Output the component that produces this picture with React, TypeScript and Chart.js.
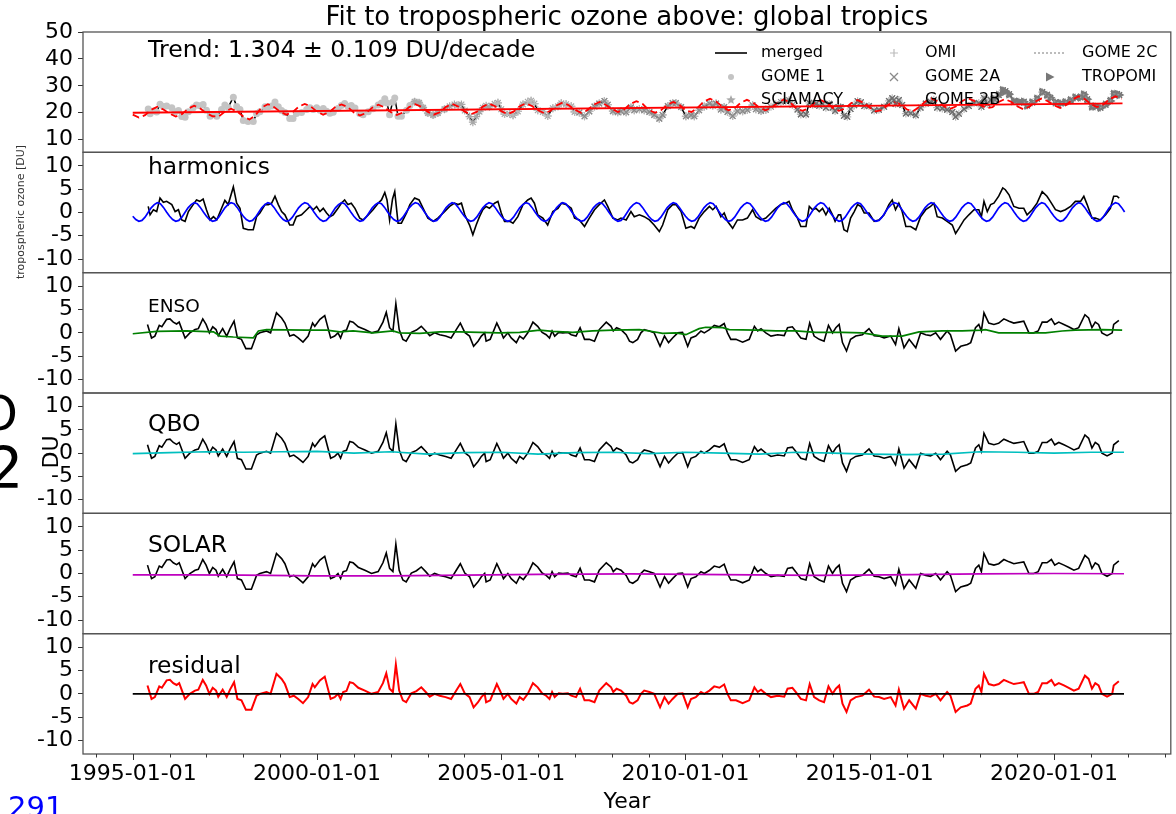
import React, { useEffect, useRef } from 'react';
import { Chart, registerables } from 'chart.js';

Chart.register(...registerables);

const FONT = '"DejaVu Sans", "Liberation Sans", sans-serif';

// ---------- axis / text data ----------
const xMin = 1993.65;
const xMax = 2023.17;
const xTickYears = [1995, 2000, 2005, 2010, 2015, 2020];
const xTickLabels = ['1995-01-01', '2000-01-01', '2005-01-01', '2010-01-01', '2015-01-01', '2020-01-01'];
const xMinorYears = [1994, 1995, 1996, 1997, 1998, 1999, 2000, 2001, 2002, 2003, 2004, 2005, 2006, 2007, 2008, 2009, 2010, 2011, 2012, 2013, 2014, 2015, 2016, 2017, 2018, 2019, 2020, 2021, 2022, 2023];
const topTicks = [10, 20, 30, 40, 50];
const panelTicks = [-10, -5, 0, 5, 10];
const panelLabels = ['harmonics', 'ENSO', 'QBO', 'SOLAR', 'residual'];
const titleText = 'Fit to tropospheric ozone above: global tropics';
const trendText = 'Trend: 1.304 \u00b1 0.109 DU/decade';

// instruments (legend order, column-major)
const instrumentNames = ['GOME 1', 'SCIAMACY', 'OMI', 'GOME 2A', 'GOME 2B', 'TROPOMI'];
const instrumentStart = [1995.4, 2002.6, 2004.8, 2007.1, 2013.0, 2018.3];
const instrumentEnd = [2003.5, 2012.3, 2021.8, 2021.8, 2021.8, 2021.8];
const gome2cStart = 2019.1;
const gome2cEnd = 2021.8;

// ---------- series ----------
const trendLine: [number, number][] = [[1995.0, 20.0], [2021.86, 23.5]];

// merged tropospheric ozone column (DU), top panel
const topMerged: [number, number][] = [
  [1995.42,21.4],[1995.47,19.6],[1995.56,20.7],[1995.65,20.3],[1995.74,23.2],[1995.83,22.3],[1995.92,22.5],[1996.06,21.9],[1996.15,20.4],[1996.24,20.8],[1996.33,18.6],[1996.42,18.3],[1996.51,20.4],[1996.64,21.9],[1996.73,22.9],[1996.82,22.6],[1996.91,23.1],[1997.00,20.9],[1997.10,18.7],[1997.19,19.4],[1997.28,18.7],[1997.41,21.2],[1997.50,22.9],[1997.59,22.0],[1997.73,25.8],[1997.82,22.3],[1997.91,21.2],[1998.00,17.1],[1998.13,16.8],[1998.27,16.8],[1998.36,19.6],[1998.45,20.4],[1998.59,22.2],[1998.68,22.2],[1998.77,22.5],[1998.86,24.0],[1998.95,22.2],[1999.04,20.8],[1999.13,20.1],[1999.26,17.9],[1999.35,17.9],[1999.44,19.7],[1999.58,20.1],[1999.72,21.2],[1999.81,21.9],[1999.90,21.2],[1999.99,21.9],
  [2000.08,20.9],[2000.17,21.6],[2000.26,20.6],[2000.35,19.8],[2000.44,20.2],[2000.57,21.6],[2000.66,22.7],[2000.75,23.4],[2000.84,22.4],[2000.93,22.7],[2001.03,21.8],[2001.16,19.7],[2001.25,19.3],[2001.39,20.4],[2001.52,21.5],[2001.66,22.9],[2001.75,23.6],[2001.84,25.2],[2001.90,23.6],[2001.97,19.3],[2002.05,23.9],[2002.11,25.5],[2002.20,18.7],[2002.29,18.7],[2002.43,20.9],[2002.52,22.7],[2002.65,24.1],[2002.77,23.7],[2002.88,21.9],[2003.01,19.9],[2003.15,19.2],[2003.28,19.9],[2003.46,21.3],[2003.60,22.4],[2003.73,23.1],[2003.83,22.8],[2003.92,23.1],[2004.01,20.8],[2004.14,18.6],[2004.23,16.5],[2004.32,18.6],[2004.41,20.4],[2004.50,21.9],[2004.59,22.6],[2004.68,22.2],[2004.82,23.3],[2004.91,23.7],
  [2005.00,21.3],[2005.09,19.5],[2005.23,19.5],[2005.32,19.1],[2005.45,20.5],[2005.59,23.1],[2005.72,24.1],[2005.81,24.5],[2005.90,23.4],[2005.99,20.9],[2006.13,20.3],[2006.26,18.8],[2006.40,21.7],[2006.54,22.4],[2006.63,23.5],[2006.76,23.2],[2006.90,22.4],[2006.99,20.3],[2007.12,20.1],[2007.26,18.7],[2007.39,20.5],[2007.53,22.3],[2007.66,23.4],[2007.80,24.4],[2007.89,23.0],[2008.03,20.6],[2008.16,20.2],[2008.25,20.6],[2008.39,20.2],[2008.52,22.0],[2008.61,20.9],[2008.75,21.3],[2008.88,20.9],[2009.02,20.3],[2009.15,19.2],[2009.29,17.8],[2009.38,19.2],[2009.52,22.5],[2009.65,23.6],[2009.74,23.6],[2009.88,22.1],
  [2010.01,18.7],[2010.15,19.1],[2010.24,18.7],[2010.37,20.9],[2010.51,22.3],[2010.65,23.4],[2010.74,22.7],[2010.83,23.4],[2010.96,21.2],[2011.05,22.1],[2011.14,20.3],[2011.28,18.8],[2011.41,20.6],[2011.55,20.6],[2011.68,21.0],[2011.82,22.8],[2011.91,21.3],[2012.05,20.7],[2012.18,21.1],[2012.32,22.2],[2012.45,23.2],[2012.59,24.0],[2012.72,24.3],[2012.81,24.7],[2012.90,22.9],[2013.04,21.2],[2013.13,19.4],[2013.27,19.4],[2013.36,23.7],[2013.45,23.0],[2013.54,23.3],[2013.63,22.6],[2013.72,23.3],[2013.81,21.9],[2013.90,23.3],[2013.99,21.9],[2014.06,20.7],[2014.15,22.1],[2014.21,22.1],[2014.30,18.9],[2014.39,18.5],[2014.48,21.4],[2014.58,22.8],[2014.67,24.3],[2014.76,23.9],[2014.85,22.5],[2014.98,22.5],
  [2015.12,20.8],[2015.25,21.1],[2015.39,22.2],[2015.52,24.4],[2015.61,25.4],[2015.70,23.3],[2015.79,24.7],[2015.88,22.9],[2015.98,19.7],[2016.11,19.8],[2016.25,19.1],[2016.38,21.9],[2016.52,23.4],[2016.65,24.1],[2016.74,24.8],[2016.83,21.9],[2016.97,21.6],[2017.10,21.1],[2017.24,20.3],[2017.33,18.5],[2017.42,19.6],[2017.56,21.4],[2017.69,22.5],[2017.83,23.6],[2017.96,23.6],[2018.03,22.2],[2018.10,25.5],[2018.19,23.3],[2018.28,24.8],[2018.37,25.1],[2018.50,26.6],[2018.61,28.4],[2018.68,28.0],[2018.78,26.9],[2018.91,24.4],[2019.05,24.1],[2019.18,24.1],[2019.27,22.7],[2019.41,23.8],[2019.54,25.2],[2019.68,27.7],[2019.81,26.7],[2019.90,25.6],
  [2020.04,23.9],[2020.18,23.5],[2020.31,23.9],[2020.45,24.6],[2020.58,25.7],[2020.72,25.7],[2020.81,26.8],[2020.90,25.0],[2021.03,22.3],[2021.12,22.3],[2021.26,21.9],[2021.40,23.0],[2021.53,24.4],[2021.62,27.0],[2021.71,27.0],[2021.77,26.6],
];

// full model fit (dashed red), every two months from 1995-01
const fitDashed = [
  19.3, 18.2, 19.1, 21.1, 22.2, 21.2,
  19.7, 18.6, 19.5, 21.5, 22.6, 21.6,
  19.8, 18.7, 18.6, 20.4, 21.5, 20.5,
  18.6, 17.5, 19.1, 22.0, 23.2, 22.1,
  20.4, 19.3, 20.2, 22.2, 23.3, 22.3,
  20.4, 19.3, 20.2, 22.2, 23.1, 22.1,
  20.1, 19.0, 19.9, 21.9, 23.0, 22.0,
  20.3, 19.2, 20.1, 22.1, 23.2, 22.2,
  20.4, 19.3, 20.2, 22.2, 23.3, 22.3,
  20.5, 19.4, 20.3, 22.3, 23.4, 22.4,
  20.6, 19.5, 20.4, 22.4, 23.5, 22.5,
  20.9, 19.8, 20.7, 22.7, 23.8, 22.8,
  21.1, 20.0, 20.9, 22.9, 24.0, 23.0,
  21.4, 20.3, 21.2, 23.2, 24.3, 23.3,
  21.1, 20.0, 20.9, 22.9, 24.0, 23.0,
  20.9, 20.3, 21.9, 24.2, 25.2, 24.2,
  22.2, 20.9, 21.7, 23.7, 24.8, 23.8,
  22.0, 20.9, 21.8, 23.8, 24.9, 23.9,
  21.8, 20.7, 21.6, 23.6, 24.7, 23.7,
  21.8, 20.7, 21.6, 23.6, 24.7, 23.7,
  21.9, 20.5, 21.0, 23.0, 24.1, 23.1,
  21.3, 20.5, 22.0, 24.1, 25.3, 24.3,
  22.5, 21.4, 22.3, 24.3, 25.4, 24.4,
  22.9, 21.7, 22.1, 24.0, 25.1, 24.1,
  22.4, 21.3, 22.2, 24.2, 25.3, 24.3,
  22.8, 21.8, 22.9, 24.9, 26.1, 25.1,
  23.2, 22.1, 23.0, 25.0, 26.1, 25.1,
];

// harmonic (seasonal) fit, monthly from 1995-01 (blue)
const harmonicsFit = [
  -0.8,-1.5,-1.9,-1.7,-1.0,0.0,1.0,1.7,2.1,1.9,1.1,0.1,
  -0.8,-1.5,-1.9,-1.7,-1.0,0.0,1.0,1.7,2.1,1.9,1.1,0.1,
  -0.8,-1.5,-1.9,-1.7,-1.0,0.0,1.0,1.7,2.1,1.9,1.1,0.1,
  -0.8,-1.5,-1.9,-1.7,-1.0,0.0,1.0,1.7,2.1,1.9,1.1,0.1,
  -0.8,-1.5,-1.9,-1.7,-1.0,0.0,1.0,1.7,2.1,1.9,1.1,0.1,
  -0.8,-1.5,-1.9,-1.7,-1.0,0.0,1.0,1.7,2.1,1.9,1.1,0.1,
  -0.8,-1.5,-1.9,-1.7,-1.0,0.0,1.0,1.7,2.1,1.9,1.1,0.1,
  -0.8,-1.5,-1.9,-1.7,-1.0,0.0,1.0,1.7,2.1,1.9,1.1,0.1,
  -0.8,-1.5,-1.9,-1.7,-1.0,0.0,1.0,1.7,2.1,1.9,1.1,0.1,
  -0.8,-1.5,-1.9,-1.7,-1.0,0.0,1.0,1.7,2.1,1.9,1.1,0.1,
  -0.8,-1.5,-1.9,-1.7,-1.0,0.0,1.0,1.7,2.1,1.9,1.1,0.1,
  -0.8,-1.5,-1.9,-1.7,-1.0,0.0,1.0,1.7,2.1,1.9,1.1,0.1,
  -0.8,-1.5,-1.9,-1.7,-1.0,0.0,1.0,1.7,2.1,1.9,1.1,0.1,
  -0.8,-1.5,-1.9,-1.7,-1.0,0.0,1.0,1.7,2.1,1.9,1.1,0.1,
  -0.8,-1.5,-1.9,-1.7,-1.0,0.0,1.0,1.7,2.1,1.9,1.1,0.1,
  -0.8,-1.5,-1.9,-1.7,-1.0,0.0,1.0,1.7,2.1,1.9,1.1,0.1,
  -0.8,-1.5,-1.9,-1.7,-1.0,0.0,1.0,1.7,2.1,1.9,1.1,0.1,
  -0.8,-1.5,-1.9,-1.7,-1.0,0.0,1.0,1.7,2.1,1.9,1.1,0.1,
  -0.8,-1.5,-1.9,-1.7,-1.0,0.0,1.0,1.7,2.1,1.9,1.1,0.1,
  -0.8,-1.5,-1.9,-1.7,-1.0,0.0,1.0,1.7,2.1,1.9,1.1,0.1,
  -0.8,-1.5,-1.9,-1.7,-1.0,0.0,1.0,1.7,2.1,1.9,1.1,0.1,
  -0.8,-1.5,-1.9,-1.7,-1.0,0.0,1.0,1.7,2.1,1.9,1.1,0.1,
  -0.8,-1.5,-1.9,-1.7,-1.0,0.0,1.0,1.7,2.1,1.9,1.1,0.1,
  -0.8,-1.5,-1.9,-1.7,-1.0,0.0,1.0,1.7,2.1,1.9,1.1,0.1,
  -0.8,-1.5,-1.9,-1.7,-1.0,0.0,1.0,1.7,2.1,1.9,1.1,0.1,
  -0.8,-1.5,-1.9,-1.7,-1.0,0.0,1.0,1.7,2.1,1.9,1.1,0.1,
  -0.8,-1.5,-1.9,-1.7,-1.0,0.0,1.0,1.7,2.1,1.9,1.1,0.1,
];

// detrended data incl. seasonal cycle (harmonics panel, black)
const harmonicsData: [number, number][] = [
  [1995.42,1.3],[1995.47,-0.5],[1995.56,0.6],[1995.65,0.2],[1995.74,3.1],[1995.83,2.2],[1995.92,2.4],[1996.06,1.7],[1996.15,0.2],[1996.24,0.6],[1996.33,-1.6],[1996.42,-1.9],[1996.51,0.2],[1996.64,1.7],[1996.73,2.7],[1996.82,2.4],[1996.91,2.9],[1997.00,0.6],[1997.10,-1.6],[1997.19,-0.9],[1997.28,-1.6],[1997.41,0.9],[1997.50,2.6],[1997.59,1.7],[1997.73,5.5],[1997.82,2.0],[1997.91,0.9],[1998.00,-3.4],[1998.13,-3.7],[1998.27,-3.7],[1998.36,-0.9],[1998.45,-0.1],[1998.59,1.7],[1998.68,1.7],[1998.77,2.0],[1998.86,3.5],[1998.95,1.7],[1999.04,0.2],[1999.13,-0.5],[1999.26,-2.7],[1999.35,-2.7],[1999.44,-0.9],[1999.58,-0.5],[1999.72,0.6],[1999.81,1.3],[1999.90,0.6],[1999.99,1.3],
  [2000.08,0.2],[2000.17,0.9],[2000.26,-0.1],[2000.35,-0.9],[2000.44,-0.5],[2000.57,0.9],[2000.66,2.0],[2000.75,2.7],[2000.84,1.7],[2000.93,2.0],[2001.03,0.9],[2001.16,-1.2],[2001.25,-1.6],[2001.39,-0.5],[2001.52,0.6],[2001.66,2.0],[2001.75,2.7],[2001.84,4.3],[2001.90,2.7],[2001.97,-1.6],[2002.05,2.9],[2002.11,4.5],[2002.20,-2.3],[2002.29,-2.3],[2002.43,-0.1],[2002.52,1.7],[2002.65,3.1],[2002.77,2.7],[2002.88,0.9],[2003.01,-1.2],[2003.15,-1.9],[2003.28,-1.2],[2003.46,0.2],[2003.60,1.3],[2003.73,2.0],[2003.83,1.7],[2003.92,2.0],[2004.01,-0.5],[2004.14,-2.7],[2004.23,-4.8],[2004.32,-2.7],[2004.41,-0.9],[2004.50,0.6],[2004.59,1.3],[2004.68,0.9],[2004.82,2.0],[2004.91,2.4],
  [2005.00,-0.1],[2005.09,-1.9],[2005.23,-1.9],[2005.32,-2.3],[2005.45,-0.9],[2005.59,1.7],[2005.72,2.7],[2005.81,3.1],[2005.90,2.0],[2005.99,-0.5],[2006.13,-1.2],[2006.26,-2.7],[2006.40,0.2],[2006.54,0.9],[2006.63,2.0],[2006.76,1.7],[2006.90,0.9],[2006.99,-1.2],[2007.12,-1.6],[2007.26,-3.0],[2007.39,-1.2],[2007.53,0.6],[2007.66,1.7],[2007.80,2.7],[2007.89,1.3],[2008.03,-1.2],[2008.16,-1.6],[2008.25,-1.2],[2008.39,-1.6],[2008.52,0.2],[2008.61,-0.9],[2008.75,-0.5],[2008.88,-0.9],[2009.02,-1.6],[2009.15,-2.7],[2009.29,-4.1],[2009.38,-2.7],[2009.52,0.6],[2009.65,1.7],[2009.74,1.7],[2009.88,0.2],
  [2010.01,-3.4],[2010.15,-3.0],[2010.24,-3.4],[2010.37,-1.2],[2010.51,0.2],[2010.65,1.3],[2010.74,0.6],[2010.83,1.3],[2010.96,-0.9],[2011.05,-0.1],[2011.14,-1.9],[2011.28,-3.4],[2011.41,-1.6],[2011.55,-1.6],[2011.68,-1.2],[2011.82,0.6],[2011.91,-0.9],[2012.05,-1.6],[2012.18,-1.2],[2012.32,-0.1],[2012.45,0.9],[2012.59,1.7],[2012.72,2.0],[2012.81,2.4],[2012.90,0.6],[2013.04,-1.2],[2013.13,-3.0],[2013.27,-3.0],[2013.36,1.3],[2013.45,0.6],[2013.54,0.9],[2013.63,0.2],[2013.72,0.9],[2013.81,-0.5],[2013.90,0.9],[2013.99,-0.5],[2014.06,-1.9],[2014.15,-0.5],[2014.21,-0.5],[2014.30,-3.7],[2014.39,-4.1],[2014.48,-1.2],[2014.58,0.2],[2014.67,1.7],[2014.76,1.3],[2014.85,-0.1],[2014.98,-0.1],
  [2015.12,-1.9],[2015.25,-1.6],[2015.39,-0.5],[2015.52,1.7],[2015.61,2.7],[2015.70,0.6],[2015.79,2.0],[2015.88,0.2],[2015.98,-3.0],[2016.11,-3.0],[2016.25,-3.7],[2016.38,-0.9],[2016.52,0.6],[2016.65,1.3],[2016.74,2.0],[2016.83,-0.9],[2016.97,-1.2],[2017.10,-1.9],[2017.24,-2.7],[2017.33,-4.5],[2017.42,-3.4],[2017.56,-1.6],[2017.69,-0.5],[2017.83,0.6],[2017.96,0.6],[2018.03,-0.9],[2018.10,2.4],[2018.19,0.2],[2018.28,1.7],[2018.37,2.0],[2018.50,3.5],[2018.61,5.3],[2018.68,4.9],[2018.78,3.8],[2018.91,1.3],[2019.05,0.9],[2019.18,0.9],[2019.27,-0.5],[2019.41,0.6],[2019.54,2.0],[2019.68,4.5],[2019.81,3.5],[2019.90,2.4],
  [2020.04,0.6],[2020.18,0.2],[2020.31,0.6],[2020.45,1.3],[2020.58,2.4],[2020.72,2.4],[2020.81,3.5],[2020.90,1.7],[2021.03,-1.2],[2021.12,-1.2],[2021.26,-1.6],[2021.40,-0.5],[2021.53,0.9],[2021.62,3.5],[2021.71,3.5],[2021.77,3.1],
];

// deseasonalised anomaly (ENSO / QBO / SOLAR panels black, residual red)
const anomaly: [number, number][] = [
  [1995.40,1.8],[1995.51,-1.1],[1995.60,-0.7],[1995.72,1.6],[1995.79,1.3],[1995.92,2.9],[1996.01,3.0],[1996.10,2.3],[1996.19,1.9],[1996.26,2.3],[1996.42,-1.1],[1996.55,0.0],[1996.69,0.7],[1996.78,0.9],[1996.90,3.0],[1996.99,1.8],[1997.08,0.0],[1997.17,1.3],[1997.26,0.7],[1997.32,-0.6],[1997.44,0.9],[1997.55,-0.7],[1997.64,0.9],[1997.75,2.5],[1997.84,-1.1],[1997.95,-1.4],[1998.07,-3.4],[1998.22,-3.4],[1998.36,-0.4],[1998.45,0.0],[1998.63,0.4],[1998.74,0.0],[1998.90,4.3],[1999.04,3.2],[1999.13,2.1],[1999.26,-0.7],[1999.37,-0.4],[1999.49,-1.1],[1999.62,-2.0],[1999.76,-0.7],[1999.88,2.1],[1999.94,1.4],
  [2000.08,2.9],[2000.21,3.7],[2000.37,-1.1],[2000.48,-0.7],[2000.57,0.0],[2000.64,-1.1],[2000.71,0.4],[2000.80,0.6],[2000.89,2.5],[2000.98,2.3],[2001.12,1.3],[2001.30,0.7],[2001.48,0.0],[2001.66,0.4],[2001.79,2.3],[2001.88,4.4],[2001.97,1.1],[2002.06,0.4],[2002.14,6.3],[2002.23,0.7],[2002.33,-1.4],[2002.42,-1.8],[2002.56,0.1],[2002.70,0.6],[2002.83,1.4],[2002.95,0.4],[2003.06,-0.6],[2003.19,0.0],[2003.33,-0.4],[2003.49,-0.7],[2003.64,-1.1],[2003.78,0.7],[2003.89,2.1],[2004.01,0.1],[2004.14,-0.7],[2004.25,-2.9],[2004.37,-1.8],[2004.46,-0.7],[2004.55,0.0],[2004.59,-1.8],[2004.70,-1.4],[2004.88,2.1],
  [2005.00,0.1],[2005.06,-1.1],[2005.18,0.0],[2005.27,-1.1],[2005.41,-2.1],[2005.50,-0.7],[2005.60,-1.3],[2005.72,0.0],[2005.86,2.3],[2005.99,1.4],[2006.11,0.1],[2006.22,-0.4],[2006.31,-1.1],[2006.38,0.4],[2006.45,-0.7],[2006.56,0.1],[2006.67,0.0],[2006.81,0.1],[2006.90,-0.4],[2007.03,-0.7],[2007.14,1.1],[2007.26,-1.4],[2007.39,-1.4],[2007.53,-1.8],[2007.66,0.7],[2007.85,2.3],[2007.98,1.4],[2008.04,0.4],[2008.13,1.1],[2008.25,0.7],[2008.39,-0.4],[2008.48,-1.8],[2008.57,-2.1],[2008.70,-1.4],[2008.79,0.0],[2008.88,0.7],[2009.02,0.4],[2009.15,0.0],[2009.31,-2.9],[2009.43,-0.7],[2009.54,-2.1],[2009.65,-1.1],[2009.79,0.0],[2009.92,0.1],
  [2010.06,-2.9],[2010.15,-1.1],[2010.28,-0.7],[2010.42,0.4],[2010.51,0.0],[2010.65,0.7],[2010.78,1.6],[2010.92,1.3],[2011.05,2.0],[2011.14,0.0],[2011.23,-1.4],[2011.37,-1.4],[2011.55,-2.0],[2011.73,-1.4],[2011.87,1.4],[2011.96,0.4],[2012.05,0.9],[2012.18,0.0],[2012.32,-0.7],[2012.50,-0.4],[2012.68,-0.6],[2012.77,1.1],[2012.90,1.3],[2012.99,0.4],[2013.13,-1.1],[2013.27,-1.4],[2013.37,2.1],[2013.49,-0.7],[2013.63,-1.4],[2013.76,-1.8],[2013.88,1.6],[2013.99,0.0],[2014.08,1.1],[2014.17,1.8],[2014.26,-2.1],[2014.37,-3.9],[2014.48,-1.4],[2014.62,-0.7],[2014.80,-0.4],[2014.98,0.9],
  [2015.12,-0.6],[2015.25,-0.7],[2015.39,-1.1],[2015.57,-0.7],[2015.70,-2.5],[2015.79,0.9],[2015.93,-3.2],[2016.07,-1.4],[2016.25,-3.2],[2016.38,0.0],[2016.52,-0.4],[2016.65,-0.6],[2016.79,0.0],[2016.92,-1.4],[2017.10,0.4],[2017.19,-0.4],[2017.33,-3.9],[2017.47,-2.9],[2017.65,-2.5],[2017.74,-2.1],[2017.87,1.1],[2017.96,1.8],[2018.03,0.4],[2018.10,4.3],[2018.23,2.1],[2018.37,1.8],[2018.50,2.1],[2018.64,3.0],[2018.78,2.5],[2018.91,2.1],[2019.05,2.3],[2019.18,2.5],[2019.32,0.0],[2019.45,0.0],[2019.57,0.4],[2019.68,2.3],[2019.81,2.3],[2019.93,3.0],
  [2020.02,1.8],[2020.13,2.3],[2020.27,1.8],[2020.40,1.3],[2020.54,0.7],[2020.67,1.1],[2020.84,3.9],[2020.94,3.2],[2021.03,1.1],[2021.12,2.3],[2021.21,1.8],[2021.30,0.0],[2021.44,-0.6],[2021.58,0.0],[2021.62,1.8],[2021.76,2.7],
];

const ensoFit: [number, number][] = [
  [1995.0,-0.2],[1995.65,0.3],[1996.46,0.4],[1997.19,0.2],[1997.37,-0.7],[1997.73,-0.9],[1998.27,-1.1],[1998.41,0.4],[1998.63,0.7],[1999.71,0.6],[2000.26,0.6],[2000.62,0.2],[2000.98,0.4],[2001.52,0.0],[2002.06,0.4],[2002.24,0.0],[2002.79,-0.1],[2003.33,0.2],[2003.87,0.2],[2004.41,0.1],[2004.95,0.0],[2005.50,0.1],[2006.04,0.6],[2006.40,0.3],[2006.94,0.1],[2007.48,0.4],[2008.03,0.6],[2008.75,0.7],[2009.02,0.4],[2009.38,-0.1],[2009.74,0.0],[2010.01,-0.4],[2010.37,0.9],[2010.55,1.2],[2011.01,1.1],[2011.19,0.7],[2011.91,0.6],[2012.45,0.4],[2012.99,0.4],[2013.54,0.1],[2014.26,0.1],[2014.80,0.0],[2015.34,-0.7],[2015.88,-0.7],[2016.34,0.2],[2016.97,0.4],[2017.51,0.4],[2018.05,0.6],[2018.14,0.7],[2018.50,0.0],[2019.14,0.0],[2019.77,0.0],[2020.22,0.4],[2020.58,0.6],[2021.30,0.7],[2021.85,0.6],
];

const qboFit: [number, number][] = [
  [1995.0,-0.1],[1996.0,0.1],[1997.0,0.3],[1998.0,0.2],[1999.0,0.3],[2000.0,0.4],[2001.0,0.0],[2002.0,0.3],[2003.0,-0.2],[2004.0,0.1],[2005.0,0.2],[2006.0,-0.2],[2007.0,0.1],[2008.0,0.2],[2009.0,-0.1],[2010.0,0.2],[2011.0,0.0],[2012.0,-0.2],[2013.0,0.2],[2014.0,0.0],[2015.0,-0.2],[2016.0,-0.3],[2017.0,-0.2],[2018.0,0.3],[2019.0,0.2],[2020.0,0.0],[2021.0,0.2],[2021.9,0.2],
];

const solarFit: [number, number][] = [
  [1995.0,-0.3],[1996.5,-0.3],[1998.0,-0.35],[2000.0,-0.5],[2002.0,-0.5],[2004.0,-0.35],[2006.0,-0.2],[2008.5,-0.1],[2011.0,-0.25],[2013.5,-0.4],[2015.5,-0.3],[2018.0,-0.1],[2020.0,0.0],[2021.9,-0.05],
];

const residualZero: [number, number][] = [[1995.0, 0], [2021.9, 0]];

// ---------- helpers ----------
const toXY = (arr: [number, number][]) => arr.map(([x, y]) => ({ x, y }));
const monthly = (vals: number[]) => vals.map((v, i) => ({ x: 1995 + i / 12, y: v }));
const bimonthly = (vals: number[]) => vals.map((v, i) => ({ x: 1995 + i / 6, y: v }));
const topBetween = (a: number, b: number) => toXY(topMerged.filter(([t]) => t >= a && t <= b));

const panelIds = ['yTop', 'yHarm', 'yEnso', 'yQbo', 'ySolar', 'yRes'];

function yScale(min: number, max: number, ticks: number[], weight: number) {
  return {
    type: 'linear',
    position: 'left',
    stack: 'panels',
    stackWeight: 1,
    weight,
    min,
    max,
    afterBuildTicks: (s: any) => {
      s.ticks = ticks.map((v) => ({ value: v }));
    },
    afterFit: (s: any) => {
      s.width = 83;
    },
    ticks: {
      autoSkip: false,
      padding: 5,
      color: '#000',
      font: { size: 22, family: FONT },
      callback: (v: any) => String(v),
    },
    grid: { drawOnChartArea: false, drawTicks: true, tickLength: 5, color: '#333', lineWidth: 1 },
    border: { display: false },
  };
}

function line(data: any[], yAxisID: string, color: string, width: number, order: number, extra: any = {}) {
  return {
    data,
    yAxisID,
    borderColor: color,
    backgroundColor: color,
    borderWidth: width,
    pointRadius: 0,
    fill: false,
    tension: 0,
    order,
    ...extra,
  };
}

function markers(data: any[], style: string, color: string, radius: number, order: number, extra: any = {}) {
  return {
    data,
    yAxisID: 'yTop',
    showLine: false,
    pointStyle: style,
    pointRadius: radius,
    pointBorderColor: color,
    pointBackgroundColor: color,
    pointBorderWidth: 1.2,
    borderColor: color,
    backgroundColor: color,
    order,
    ...extra,
  };
}

const overlay = {
  id: 'overlay',
  afterDraw(chart: any) {
    const { ctx, chartArea, scales } = chart;
    const xs = scales.x;
    ctx.save();

    // panel frames
    ctx.strokeStyle = '#555';
    ctx.lineWidth = 1.3;
    for (const id of panelIds) {
      const s = scales[id];
      ctx.strokeRect(chartArea.left, s.top, chartArea.right - chartArea.left, s.bottom - s.top);
    }

    // x ticks
    ctx.strokeStyle = '#333';
    ctx.lineWidth = 1;
    for (const yr of xMinorYears) {
      const px = Math.round(xs.getPixelForValue(yr)) + 0.5;
      const major = xTickYears.includes(yr);
      ctx.beginPath();
      ctx.moveTo(px, chartArea.bottom);
      ctx.lineTo(px, chartArea.bottom + (major ? 6 : 3.5));
      ctx.stroke();
    }
    ctx.fillStyle = '#000';
    ctx.font = `22px ${FONT}`;
    ctx.textAlign = 'center';
    ctx.textBaseline = 'alphabetic';
    xTickYears.forEach((yr, i) => {
      ctx.fillText(xTickLabels[i], xs.getPixelForValue(yr), 780);
    });
    ctx.font = `22px ${FONT}`;
    ctx.fillText('Year', (chartArea.left + chartArea.right) / 2, 808);

    // title
    ctx.font = `26px ${FONT}`;
    ctx.fillText(titleText, (chartArea.left + chartArea.right) / 2, 25);

    // trend text
    ctx.textAlign = 'left';
    ctx.font = `23.6px ${FONT}`;
    ctx.fillText(trendText, 148, 57);

    // panel labels
    const offsets = [22, 39, 38, 39, 39];
    const sizes = [23.4, 18.5, 23.4, 23.4, 23.4];
    panelLabels.forEach((lab, i) => {
      const s = scales[panelIds[i + 1]];
      ctx.font = `${sizes[i]}px ${FONT}`;
      ctx.fillText(lab, 148, s.top + offsets[i]);
    });

    // legend
    ctx.font = `16px ${FONT}`;
    ctx.textBaseline = 'middle';
    const rows = [53, 77, 100];
    const cols = [731, 894, 1050];
    const txt = [761, 925, 1082];
    const entries = [
      { c: 0, r: 0, label: 'merged', kind: 'line', color: '#000' },
      { c: 0, r: 1, label: 'GOME 1', kind: 'circle', color: '#c4c4c4' },
      { c: 0, r: 2, label: 'SCIAMACY', kind: 'star', color: '#a8a8a8' },
      { c: 1, r: 0, label: 'OMI', kind: 'plus', color: '#bbbbbb' },
      { c: 1, r: 1, label: 'GOME 2A', kind: 'x', color: '#8a8a8a' },
      { c: 1, r: 2, label: 'GOME 2B', kind: 'x', color: '#6e6e6e' },
      { c: 2, r: 0, label: 'GOME 2C', kind: 'dotted', color: '#999999' },
      { c: 2, r: 1, label: 'TROPOMI', kind: 'tri', color: '#777777' },
    ];
    for (const e of entries) {
      const cx = cols[e.c];
      const cy = rows[e.r];
      ctx.strokeStyle = e.color;
      ctx.fillStyle = e.color;
      ctx.setLineDash([]);
      if (e.kind === 'line' || e.kind === 'dotted') {
        ctx.lineWidth = e.kind === 'line' ? 1.6 : 1.3;
        if (e.kind === 'dotted') ctx.setLineDash([2, 2]);
        ctx.beginPath();
        ctx.moveTo(cx - 16, cy);
        ctx.lineTo(cx + 16, cy);
        ctx.stroke();
        ctx.setLineDash([]);
      } else if (e.kind === 'circle') {
        ctx.beginPath();
        ctx.arc(cx, cy, 3, 0, Math.PI * 2);
        ctx.fill();
      } else if (e.kind === 'plus') {
        ctx.lineWidth = 1.2;
        ctx.beginPath();
        ctx.moveTo(cx - 4, cy); ctx.lineTo(cx + 4, cy);
        ctx.moveTo(cx, cy - 4); ctx.lineTo(cx, cy + 4);
        ctx.stroke();
      } else if (e.kind === 'x') {
        ctx.lineWidth = 1.3;
        ctx.beginPath();
        ctx.moveTo(cx - 4, cy - 4); ctx.lineTo(cx + 4, cy + 4);
        ctx.moveTo(cx - 4, cy + 4); ctx.lineTo(cx + 4, cy - 4);
        ctx.stroke();
      } else if (e.kind === 'star') {
        ctx.beginPath();
        for (let k = 0; k < 10; k++) {
          const r = k % 2 === 0 ? 5 : 2.2;
          const a = -Math.PI / 2 + (k * Math.PI) / 5;
          const px = cx + r * Math.cos(a);
          const py = cy + r * Math.sin(a);
          if (k === 0) ctx.moveTo(px, py); else ctx.lineTo(px, py);
        }
        ctx.closePath();
        ctx.fill();
      } else if (e.kind === 'tri') {
        ctx.beginPath();
        ctx.moveTo(cx - 4, cy - 4.5);
        ctx.lineTo(cx + 4.5, cy);
        ctx.lineTo(cx - 4, cy + 4.5);
        ctx.closePath();
        ctx.fill();
      }
      ctx.fillStyle = '#000';
      ctx.fillText(e.label, txt[e.c], cy);
    }

    // y-axis label
    ctx.save();
    ctx.translate(21, 212);
    ctx.rotate(-Math.PI / 2);
    ctx.font = `11px ${FONT}`;
    ctx.fillStyle = '#333';
    ctx.textAlign = 'center';
    ctx.textBaseline = 'middle';
    ctx.fillText('tropospheric ozone [DU]', 0, 0);
    ctx.restore();

    // stray overlapping labels at the left edge
    ctx.fillStyle = '#000';
    ctx.textAlign = 'left';
    ctx.textBaseline = 'alphabetic';
    ctx.font = `48px ${FONT}`;
    ctx.fillText('O', -20, 430);
    ctx.font = `57px ${FONT}`;
    ctx.fillText('2', -13, 488);
    ctx.save();
    ctx.translate(58, 452);
    ctx.rotate(-Math.PI / 2);
    ctx.font = `22px ${FONT}`;
    ctx.textAlign = 'center';
    ctx.fillText('DU', 0, 0);
    ctx.restore();
    ctx.fillStyle = '#0000ff';
    ctx.font = `29px ${FONT}`;
    ctx.fillText('291', 8, 817);

    ctx.restore();
  },
};

export default function App() {
  const canvasRef = useRef<HTMLCanvasElement | null>(null);

  useEffect(() => {
    const canvas = canvasRef.current;
    if (!canvas) return;
    Chart.defaults.font.family = FONT;

    const datasets: any[] = [
      // top panel
      line(toXY(trendLine), 'yTop', '#ff0000', 1.8, 1),
      line(bimonthly(fitDashed), 'yTop', '#ff0000', 1.8, 2, { borderDash: [7, 4] }),
      markers(topBetween(instrumentStart[5], instrumentEnd[5]), 'triangle', '#7a7a7a', 4, 4, { rotation: 90 }),
      markers(topBetween(instrumentStart[4], instrumentEnd[4]), 'crossRot', '#6e6e6e', 4, 5),
      markers(topBetween(instrumentStart[3], instrumentEnd[3]), 'crossRot', '#8a8a8a', 4, 6),
      markers(topBetween(instrumentStart[2], instrumentEnd[2]), 'cross', '#bbbbbb', 4, 7),
      markers(topBetween(instrumentStart[1], instrumentEnd[1]), 'star', '#a8a8a8', 4, 8),
      markers(topBetween(instrumentStart[0], instrumentEnd[0]), 'circle', '#c4c4c4', 3.5, 9, { pointBorderWidth: 0 }),
      line(topBetween(gome2cStart, gome2cEnd), 'yTop', '#999999', 1.2, 3, { borderDash: [2, 2] }),
      line(toXY(topMerged), 'yTop', '#000000', 1.5, 10),
      // harmonics
      line(monthly(harmonicsFit), 'yHarm', '#0000ff', 1.7, 1),
      line(toXY(harmonicsData), 'yHarm', '#000000', 1.6, 2),
      // ENSO
      line(toXY(ensoFit), 'yEnso', '#008000', 1.7, 1),
      line(toXY(anomaly), 'yEnso', '#000000', 1.6, 2),
      // QBO
      line(toXY(qboFit), 'yQbo', '#00bfbf', 1.7, 1),
      line(toXY(anomaly), 'yQbo', '#000000', 1.6, 2),
      // SOLAR
      line(toXY(solarFit), 'ySolar', '#bf00bf', 1.7, 1),
      line(toXY(anomaly), 'ySolar', '#000000', 1.6, 2),
      // residual
      line(toXY(residualZero), 'yRes', '#000000', 1.6, 1),
      line(toXY(anomaly), 'yRes', '#ff0000', 2.0, 2),
    ];

    const chart = new Chart(canvas, {
      type: 'line',
      data: { datasets },
      options: {
        animation: false,
        responsive: false,
        devicePixelRatio: 1,
        events: [],
        layout: { padding: { top: 32, right: 4, bottom: 60, left: 0 } },
        plugins: {
          legend: { display: false },
          tooltip: { enabled: false },
          title: { display: false },
        },
        scales: {
          x: { type: 'linear', min: xMin, max: xMax, display: false },
          yTop: yScale(5.3, 50, topTicks, 6),
          yHarm: yScale(-12.93, 12.93, panelTicks, 5),
          yEnso: yScale(-12.93, 12.93, panelTicks, 4),
          yQbo: yScale(-12.93, 12.93, panelTicks, 3),
          ySolar: yScale(-12.93, 12.93, panelTicks, 2),
          yRes: yScale(-12.93, 12.93, panelTicks, 1),
        } as any,
      } as any,
      plugins: [overlay],
    });

    return () => chart.destroy();
  }, []);

  return (
    <div style={{ position: 'fixed', left: 0, top: 0, width: 1176, height: 814, background: '#fff', overflow: 'hidden' }}>
      <canvas ref={canvasRef} width={1176} height={814} style={{ display: 'block', width: 1176, height: 814 }} />
    </div>
  );
}
